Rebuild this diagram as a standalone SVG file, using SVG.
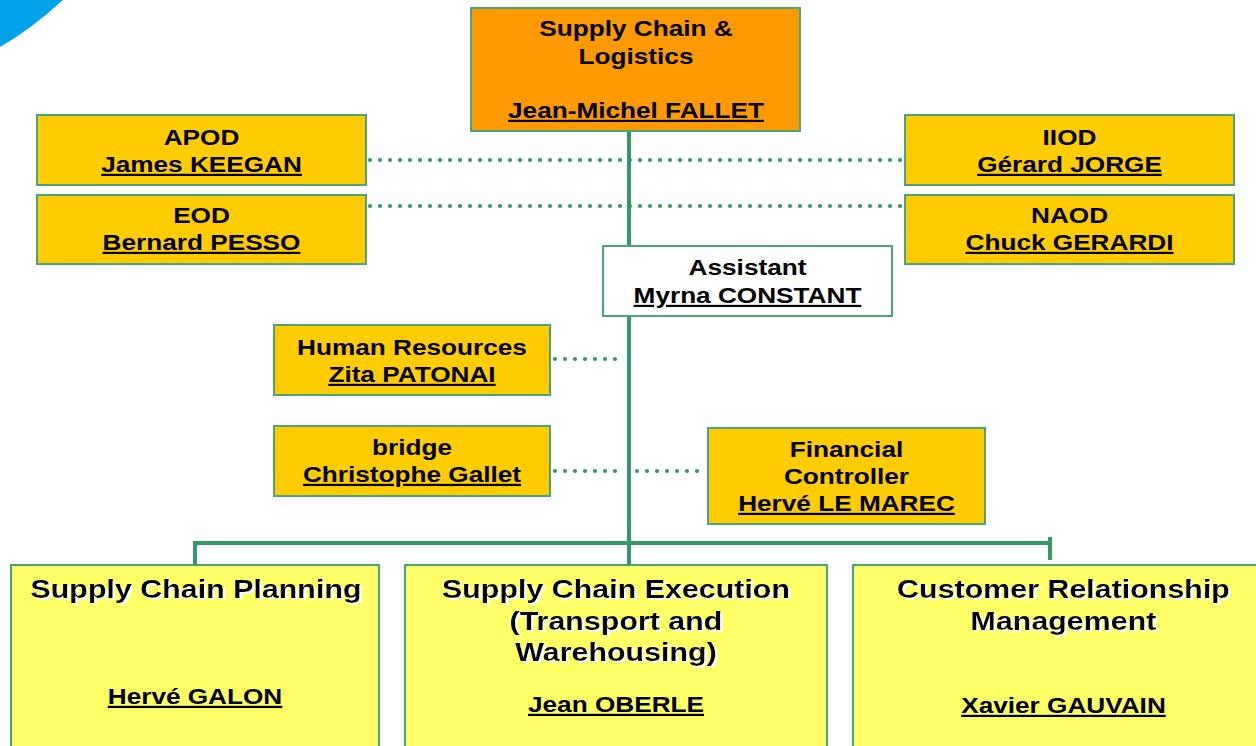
<svg xmlns="http://www.w3.org/2000/svg" width="1256" height="746" viewBox="0 0 1256 746">
<style>
.t{font-family:"Liberation Sans",Arial,sans-serif;font-weight:bold;font-size:22px;fill:#000;text-anchor:middle}
.u{text-decoration:underline}
.big{font-size:26px}
.box{stroke:#4aa478;stroke-width:2}
.org{fill:#ff9900}
.yel{fill:#ffcc00}
.lt{fill:#ffff66}
.wh{fill:#ffffff}
.solid{stroke:#339966;stroke-width:4;fill:none}
.dot{stroke:#339966;stroke-width:4.2;stroke-linecap:round;stroke-dasharray:0 10;fill:none}
</style>
<defs>
<filter id="sh" x="-5%" y="-20%" width="110%" height="140%">
<feDropShadow dx="2" dy="2" stdDeviation="0" flood-color="#ffffff" flood-opacity="1"/>
</filter>
</defs>
<rect width="1256" height="746" fill="#ffffff"/>
<path d="M0,0 L63,0 Q30,30 0,47 Z" fill="#00a3e8"/>
<g id="connectors">
<path class="solid" d="M629,131 V565"/>
<path class="solid" d="M195,565 V543 H1050"/>
<path class="solid" d="M1050,537 V560"/>
<path class="dot" d="M370,160 H903"/>
<path class="dot" d="M370,206 H903"/>
<path class="dot" d="M555,359 H625"/>
<path class="dot" d="M555,471 H625"/>
<path class="dot" d="M637,471 H703"/>
</g>
<g id="n-scl">
<rect class="box org" x="471" y="8" width="329" height="123"/>
<text class="t" transform="translate(636,36) scale(1.19,1)">Supply Chain &amp;</text>
<text class="t" transform="translate(636,64) scale(1.19,1)">Logistics</text>
<text class="t u" transform="translate(636,118) scale(1.19,1)">Jean-Michel FALLET</text>
</g>
<g id="n-apod">
<rect class="box yel" x="37" y="115" width="329" height="70"/>
<text class="t" transform="translate(201.5,145) scale(1.19,1)">APOD</text>
<text class="t u" transform="translate(201.5,172) scale(1.19,1)">James KEEGAN</text>
</g>
<g id="n-eod">
<rect class="box yel" x="37" y="195" width="329" height="69"/>
<text class="t" transform="translate(201.5,223) scale(1.19,1)">EOD</text>
<text class="t u" transform="translate(201.5,250) scale(1.19,1)">Bernard PESSO</text>
</g>
<g id="n-iiod">
<rect class="box yel" x="905" y="115" width="329" height="70"/>
<text class="t" transform="translate(1069.5,145) scale(1.19,1)">IIOD</text>
<text class="t u" transform="translate(1069.5,172) scale(1.19,1)">Gérard JORGE</text>
</g>
<g id="n-naod">
<rect class="box yel" x="905" y="195" width="329" height="69"/>
<text class="t" transform="translate(1069.5,223) scale(1.19,1)">NAOD</text>
<text class="t u" transform="translate(1069.5,250) scale(1.19,1)">Chuck GERARDI</text>
</g>
<g id="n-assistant">
<rect class="box wh" x="603" y="246" width="289" height="70"/>
<text class="t" transform="translate(747.5,275) scale(1.19,1)">Assistant</text>
<text class="t u" transform="translate(747.5,303) scale(1.19,1)">Myrna CONSTANT</text>
</g>
<g id="n-hr">
<rect class="box yel" x="274" y="325" width="276" height="70"/>
<text class="t" transform="translate(412,355) scale(1.19,1)">Human Resources</text>
<text class="t u" transform="translate(412,382) scale(1.19,1)">Zita PATONAI</text>
</g>
<g id="n-bridge">
<rect class="box yel" x="274" y="426" width="276" height="70"/>
<text class="t" transform="translate(412,455) scale(1.19,1)">bridge</text>
<text class="t u" transform="translate(412,482) scale(1.19,1)">Christophe Gallet</text>
</g>
<g id="n-fin">
<rect class="box yel" x="708" y="428" width="277" height="96"/>
<text class="t" transform="translate(846.5,457) scale(1.19,1)">Financial</text>
<text class="t" transform="translate(846.5,484) scale(1.19,1)">Controller</text>
<text class="t u" transform="translate(846.5,511) scale(1.19,1)">Hervé LE MAREC</text>
</g>
<g id="n-scp">
<rect class="box lt" x="11" y="565" width="368" height="190"/>
<text class="t big" filter="url(#sh)" transform="translate(196,598) scale(1.17,1)">Supply Chain Planning</text>
<text class="t u" transform="translate(195,704) scale(1.19,1)">Hervé GALON</text>
</g>
<g id="n-sce">
<rect class="box lt" x="405" y="565" width="422" height="190"/>
<text class="t big" filter="url(#sh)" transform="translate(616,598) scale(1.17,1)">Supply Chain Execution</text>
<text class="t big" filter="url(#sh)" transform="translate(616,630) scale(1.17,1)">(Transport and</text>
<text class="t big" filter="url(#sh)" transform="translate(616,661) scale(1.17,1)">Warehousing)</text>
<text class="t u" transform="translate(616,712) scale(1.19,1)">Jean OBERLE</text>
</g>
<g id="n-crm">
<rect class="box lt" x="853" y="565" width="420" height="190"/>
<text class="t big" filter="url(#sh)" transform="translate(1063.5,598) scale(1.17,1)">Customer Relationship</text>
<text class="t big" filter="url(#sh)" transform="translate(1063.5,630) scale(1.17,1)">Management</text>
<text class="t u" transform="translate(1063.5,713) scale(1.19,1)">Xavier GAUVAIN</text>
</g>
</svg>
